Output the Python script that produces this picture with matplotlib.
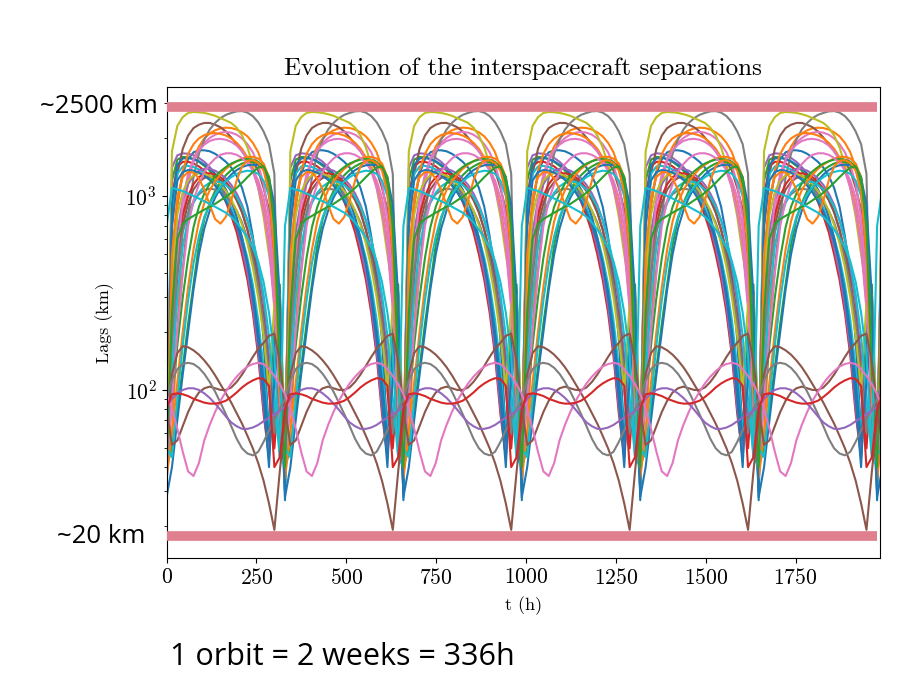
import numpy as np
import matplotlib
matplotlib.use("Agg")
import matplotlib.pyplot as plt

# ---------------------------------------------------------------------------
# Data: one orbit of each separation, repeated per orbit
# ---------------------------------------------------------------------------
ORBIT_H = 329.5
N_ORBITS = 7
PHASE_H = [0, 15, 30, 45, 60, 75, 90, 105, 120, 135, 150,
           165, 180, 195, 210, 225, 240, 255, 270, 285, 300, 315]

# high arches
OLIVE_HIGH = [30, 1700, 2300, 2550, 2680, 2710, 2700, 2680, 2640, 2590, 2520,
              2450, 2380, 2250, 2050, 1780, 1450, 1100, 780, 500, 330, 290]
GRAY_HIGH = [70, 100, 200, 420, 800, 1250, 1650, 1950, 2200, 2380, 2520,
             2620, 2680, 2730, 2740, 2690, 2580, 2400, 2150, 1850, 1300, 60]
BROWN_HIGH = [40, 700, 1300, 1750, 2050, 2240, 2330, 2380, 2380, 2330, 2260,
              2150, 2000, 1850, 1700, 1550, 1500, 1350, 1100, 850, 450, 100]
ORANGE_HIGH = [40, 60, 200, 700, 1200, 1550, 1800, 1980, 2100, 2180, 2230,
               2250, 2240, 2200, 2130, 2030, 1880, 1680, 1400, 1050, 600, 150]
ORANGE_HIGH2 = [50, 300, 900, 1350, 1650, 1850, 1980, 2060, 2100, 2110, 2090,
                2050, 1980, 1880, 1750, 1580, 1380, 1150, 880, 580, 280, 90]
PINK_HIGH = [50, 100, 350, 800, 1200, 1500, 1720, 1880, 1990, 2070, 2120,
             2140, 2120, 2070, 1980, 1850, 1680, 1450, 1150, 780, 380, 100]
PINK_HIGH2 = [45, 150, 500, 950, 1300, 1550, 1720, 1840, 1920, 1960, 1970,
              1950, 1900, 1820, 1700, 1540, 1340, 1100, 830, 550, 260, 80]
BLUE_HIGH = [30, 300, 900, 1300, 1550, 1680, 1720, 1720, 1700, 1650, 1580,
             1500, 1400, 1270, 1100, 880, 620, 380, 180, 60, 200, 90]
PINK_MID = [40, 90, 200, 400, 700, 950, 1150, 1330, 1460, 1560, 1630,
            1660, 1660, 1630, 1570, 1480, 1360, 1200, 980, 680, 330, 90]

# early plateaus
PURPLE_EARLY = [45, 1400, 1620, 1660, 1650, 1620, 1570, 1500, 1410, 1300, 1170,
                1020, 860, 700, 540, 400, 270, 160, 80, 45, 150, 300]
GREEN_EARLY = [40, 1200, 1540, 1590, 1580, 1550, 1500, 1430, 1350, 1250, 1130,
               990, 840, 690, 540, 400, 280, 170, 90, 50, 200, 350]
RED_EARLY = [50, 1000, 1420, 1500, 1500, 1470, 1420, 1350, 1270, 1170, 1060,
             930, 790, 650, 500, 370, 250, 150, 75, 45, 120, 260]
BLUE_EARLY = [27, 900, 1450, 1560, 1570, 1550, 1510, 1450, 1380, 1300, 1200,
              1080, 940, 780, 610, 450, 300, 180, 90, 40, 160, 320]
CYAN_EARLY = [45, 800, 1300, 1420, 1430, 1410, 1370, 1310, 1240, 1160, 1070,
              970, 860, 740, 610, 480, 350, 230, 130, 60, 140, 280]
BLUE_EARLY2 = [40, 700, 1200, 1330, 1360, 1350, 1320, 1270, 1210, 1130, 1040,
               940, 830, 710, 580, 450, 320, 200, 110, 55, 110, 250]

# mid-orbit peaks
RED_MID = [40, 200, 500, 800, 1000, 1150, 1250, 1300, 1310, 1290, 1250,
           1180, 1090, 970, 830, 670, 500, 340, 200, 100, 50, 120]
BROWN_MID = [50, 150, 400, 700, 920, 1080, 1180, 1240, 1260, 1250, 1210,
             1150, 1060, 950, 820, 670, 520, 370, 240, 130, 60, 130]
CYAN_MID = [40, 120, 300, 550, 760, 920, 1040, 1120, 1170, 1190, 1180,
            1140, 1080, 990, 880, 750, 600, 450, 310, 190, 90, 45]
GRAY_MID = [50, 180, 420, 650, 820, 940, 1020, 1070, 1090, 1080, 1050,
            1000, 930, 840, 730, 600, 470, 340, 220, 120, 60, 110]
PURPLE_MID = [45, 250, 650, 950, 1150, 1280, 1350, 1380, 1380, 1350, 1300,
              1230, 1140, 1030, 900, 750, 590, 430, 280, 150, 70, 140]
OLIVE_MID = [60, 400, 800, 1050, 1200, 1280, 1310, 1300, 1270, 1220, 1150,
             1060, 960, 840, 710, 570, 430, 300, 190, 100, 280, 310]

# late peaks
GREEN_LATE = [40, 50, 80, 130, 220, 350, 560, 760, 920, 1060, 1180,
              1280, 1360, 1420, 1470, 1500, 1500, 1470, 1380, 1150, 700, 150]
ORANGE_LATE = [35, 60, 110, 200, 340, 530, 740, 920, 1070, 1190, 1290,
               1380, 1450, 1510, 1560, 1590, 1590, 1560, 1470, 1250, 800, 200]
BLUE_LATE = [28, 40, 70, 120, 200, 330, 500, 680, 840, 980, 1100,
             1200, 1290, 1360, 1410, 1440, 1450, 1440, 1390, 1240, 900, 300]
CYAN_LATE = [50, 45, 90, 170, 290, 450, 620, 780, 910, 1020, 1110,
             1190, 1250, 1300, 1330, 1350, 1340, 1300, 1200, 1000, 600, 120]
GREEN_LATE2 = [40, 90, 170, 300, 480, 690, 880, 1030, 1160, 1260, 1340,
               1410, 1470, 1510, 1540, 1550, 1540, 1500, 1400, 1180, 750, 180]

# odd ones
ORANGE_DOUBLE = [40, 500, 1000, 1250, 1330, 1320, 1230, 1080, 900, 760, 720,
                 780, 950, 1200, 1420, 1520, 1530, 1480, 1350, 1050, 500, 100]
GREEN_SLOPE = [40, 250, 600, 720, 760, 790, 820, 850, 880, 910, 950,
               990, 1040, 1100, 1170, 1250, 1330, 1400, 1420, 1250, 700, 120]
CYAN_SLOPE = [700, 1100, 1080, 1060, 1030, 1000, 970, 940, 910, 880, 850,
              820, 780, 730, 670, 610, 540, 460, 360, 250, 150, 45]

# short separations
BROWN_LOW_V = [70, 120, 155, 168, 166, 160, 152, 142, 131, 119, 107,
               96, 86, 76, 67, 58, 50, 42, 34, 26, 19, 38]
BROWN_LOW = [80, 52, 55, 65, 77, 88, 97, 102, 104, 102, 100,
             100, 103, 110, 120, 133, 148, 163, 175, 190, 195, 140]
GRAY_LOW = [90, 112, 128, 136, 138, 136, 130, 121, 110, 98, 86,
            75, 65, 56, 50, 47, 46, 48, 54, 62, 70, 80]
PINK_LOW = [95, 80, 63, 48, 38, 36, 42, 55, 66, 77, 88,
            98, 108, 117, 125, 132, 136, 138, 136, 128, 118, 107]
PURPLE_LOW = [82, 90, 96, 100, 102, 102, 100, 96, 91, 85, 79,
              73, 68, 65, 63, 63, 64, 66, 69, 72, 75, 78]
RED_LOW = [80, 95, 96, 95, 93, 90, 88, 86, 85, 85, 86,
           88, 92, 97, 103, 108, 112, 115, 114, 105, 40, 45]

BAND_HIGH_KM = 2890
BAND_LOW_KM = 17.7
BAND_END_H = 1977

CURVES = [
    ("tab:blue", BLUE_HIGH), ("tab:orange", ORANGE_HIGH), ("tab:green", GREEN_EARLY),
    ("tab:red", RED_EARLY), ("tab:purple", PURPLE_EARLY), ("tab:brown", BROWN_HIGH),
    ("tab:pink", PINK_HIGH), ("tab:gray", GRAY_HIGH), ("tab:olive", OLIVE_HIGH),
    ("tab:cyan", CYAN_EARLY), ("tab:blue", BLUE_EARLY), ("tab:orange", ORANGE_HIGH2),
    ("tab:green", GREEN_LATE), ("tab:red", RED_MID), ("tab:purple", PURPLE_MID),
    ("tab:brown", BROWN_MID), ("tab:pink", PINK_HIGH2), ("tab:gray", GRAY_MID),
    ("tab:olive", OLIVE_MID), ("tab:cyan", CYAN_MID), ("tab:blue", BLUE_EARLY2),
    ("tab:orange", ORANGE_LATE), ("tab:green", GREEN_LATE2), ("tab:pink", PINK_MID),
    ("tab:blue", BLUE_LATE), ("tab:cyan", CYAN_LATE), ("tab:orange", ORANGE_DOUBLE),
    ("tab:green", GREEN_SLOPE), ("tab:cyan", CYAN_SLOPE),
    ("tab:brown", BROWN_LOW_V), ("tab:brown", BROWN_LOW), ("tab:gray", GRAY_LOW),
    ("tab:pink", PINK_LOW), ("tab:purple", PURPLE_LOW), ("tab:red", RED_LOW),
]

plt.rcParams["font.family"] = "serif"
plt.rcParams["font.serif"] = ["cmr10"]
plt.rcParams["mathtext.fontset"] = "cm"
plt.rcParams["axes.formatter.use_mathtext"] = True

fig = plt.figure(figsize=(8.97, 6.85), dpi=100)
ax = fig.add_axes([0.1857, 0.1854, 0.7953, 0.6883])

phase = np.array(PHASE_H, dtype=float)
t = np.concatenate([phase + k * ORBIT_H for k in range(N_ORBITS)])

for color, vals in CURVES:
    ax.plot(t, np.tile(vals, N_ORBITS), color=color, linewidth=1.5)

# highlighted bounds
band_color = "#e0808f"
ax.plot([0, BAND_END_H], [BAND_HIGH_KM, BAND_HIGH_KM], color=band_color,
        linewidth=7, solid_capstyle="butt", zorder=5)
ax.plot([0, BAND_END_H], [BAND_LOW_KM, BAND_LOW_KM], color=band_color,
        linewidth=7, solid_capstyle="butt", zorder=5)

ax.set_yscale("log")
ax.set_xlim(0, 1985)
ax.set_ylim(13.6, 3667)
ax.set_xticks([0, 250, 500, 750, 1000, 1250, 1500, 1750])
ax.tick_params(labelsize=15.5)
ax.set_title("Evolution of the interspacecraft separations", fontsize=18, pad=8)
ax.set_xlabel("t (h)", fontsize=13, labelpad=6)
ax.set_ylabel("Lags (km)", fontsize=13, labelpad=8)

fig.text(0.176, 0.845, "~2500 km", ha="right", va="center",
         fontsize=18.5, family="Open Sans")
fig.text(0.162, 0.217, "~20 km", ha="right", va="center",
         fontsize=18.5, family="Open Sans")
fig.text(0.19, 0.041, "1 orbit = 2 weeks = 336h", ha="left", va="center",
         fontsize=22, family="Open Sans")

fig.savefig("out.png", dpi=100)
